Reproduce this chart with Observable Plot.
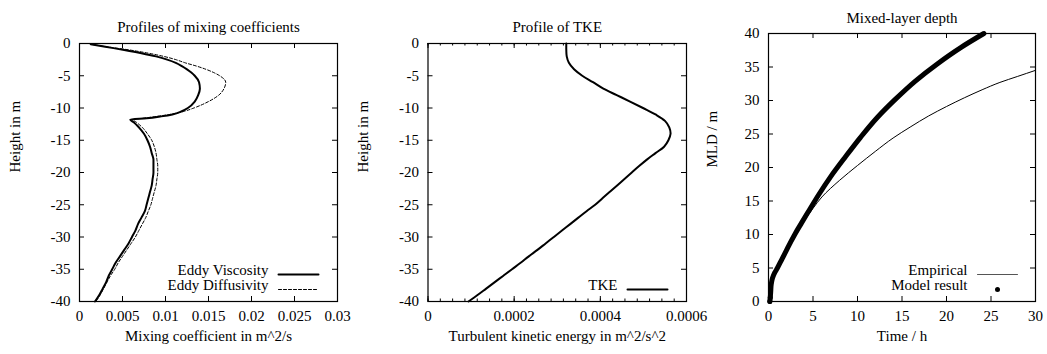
<!DOCTYPE html>
<html>
<head>
<meta charset="utf-8">
<script src="https://cdn.jsdelivr.net/npm/d3@7"></script>
<script src="https://cdn.jsdelivr.net/npm/@observablehq/plot@0.6"></script>
<style>
  html, body { margin: 0; padding: 0; background: #fff; }
  #chart { position: relative; width: 1047px; height: 354px; background: #fff; }
  #chart svg { position: absolute; left: 0; top: 0; }
</style>
</head>
<body>
<div id="chart"></div>
<script>
// ---- Profiles of mixing coefficients (height in m, coefficients in m^2/s)
const mixDepth = [-0.1, -0.5, -1, -1.5, -2, -2.5, -3, -3.5, -4, -4.5, -5, -6, -7, -8, -9, -10, -10.5, -11, -11.3, -11.6, -11.8,
  -12.2, -13, -14, -15, -16, -17, -18, -19, -20, -21, -22, -23, -24, -25, -26, -27, -28, -29, -30,
  -31, -32, -33, -34, -35, -36, -37, -38, -39, -40];
const eddyViscosity = [0.0013, 0.0030, 0.0052, 0.0072, 0.0089, 0.0102, 0.0112, 0.0119, 0.0125, 0.0130, 0.0134, 0.0139, 0.0140, 0.0138, 0.0134, 0.0126, 0.0119, 0.0108, 0.0095, 0.0078, 0.0059,
  0.0063, 0.0069, 0.0075, 0.0079, 0.0082, 0.0084, 0.0086, 0.0086, 0.0086, 0.0085, 0.0084, 0.0082, 0.0080, 0.0078, 0.0076, 0.0072, 0.0068, 0.0065, 0.0061,
  0.0057, 0.0052, 0.0047, 0.0042, 0.0038, 0.0034, 0.0031, 0.0027, 0.0023, 0.0018];
const eddyDiffusivity = [0.0013, 0.0031, 0.0058, 0.0080, 0.0098, 0.0112, 0.0123, 0.0136, 0.0147, 0.0156, 0.0163, 0.0170, 0.0168, 0.0162, 0.0150, 0.0133, 0.0122, 0.0105, 0.0090, 0.0073, 0.0062,
  0.0066, 0.0073, 0.0079, 0.0084, 0.0087, 0.0089, 0.0090, 0.0091, 0.0091, 0.0090, 0.0089, 0.0087, 0.0085, 0.0083, 0.0080, 0.0077, 0.0073, 0.0069, 0.0065,
  0.0060, 0.0055, 0.0050, 0.0045, 0.0041, 0.0036, 0.0032, 0.0028, 0.0024, 0.0019];

// ---- Profile of TKE (m^2/s^2)
const tkeDepth = [0, -1, -2, -3, -4, -5, -6, -7, -8, -9, -10, -11, -12, -13, -14, -15, -16, -17, -18, -19, -20,
  -21, -22, -23, -24, -25, -26, -27, -28, -29, -30, -31, -32, -33, -34, -35, -36, -37, -38, -39, -40];
const tke = [0.000321, 0.000321, 0.000322, 0.000327, 0.000339, 0.000358, 0.000383, 0.000407, 0.000438, 0.000469, 0.000499,
  0.000528, 0.000550, 0.000560, 0.000563, 0.000558, 0.000548, 0.000528, 0.000508, 0.000490, 0.000473,
  0.000456, 0.000439, 0.000422, 0.000405, 0.000388, 0.000368, 0.000349, 0.000330, 0.000311, 0.000292,
  0.000273, 0.000254, 0.000234, 0.000215, 0.000195, 0.000175, 0.000155, 0.000135, 0.000115, 0.000094];

// ---- Mixed-layer depth (time in h, depth in m)
const modelTime = [0.15, 0.2, 0.25, 0.3, 0.45, 0.7, 1.0, 1.5, 2.0, 2.5, 3.03, 3.7, 4.38, 5.62, 6.97, 8.65, 10.34, 12.25, 14.27, 16.5, 19.0, 21.6, 24.2];
const modelMLD  = [0, 0.6, 1.5, 2.5, 3.5, 4.3, 5.0, 6.3, 7.6, 8.9, 10.2, 11.7, 13.2, 15.9, 18.6, 21.6, 24.5, 27.5, 30.2, 32.9, 35.5, 37.9, 40];
const empTime = [0, 0.1, 0.3, 0.6, 1, 2, 3, 4, 5, 6, 8, 10, 12, 14, 16, 18, 20, 22, 24, 26, 28, 30];
const empMLD  = [0, 1.5, 3.0, 4.2, 5.3, 7.8, 10.1, 12.0, 13.9, 15.6, 18.1, 20.3, 22.4, 24.4, 26.1, 27.7, 29.1, 30.4, 31.6, 32.7, 33.6, 34.5];

// ---- Tick values
const depthTicks = [0, -5, -10, -15, -20, -25, -30, -35, -40];
const mixTicks = [0, 0.005, 0.01, 0.015, 0.02, 0.025, 0.03];
const tkeTicks = [0, 0.0002, 0.0004, 0.0006];
const tkeMinorTicks = d3.range(0, 22).map(i => i * 0.0006 / 21);
const timeTicks = [0, 5, 10, 15, 20, 25, 30];
const mldTicks = [0, 5, 10, 15, 20, 25, 30, 35, 40];

const W = 1047, H = 354;
const FONT = "'Liberation Serif', 'Times New Roman', serif";
const STYLE = `background: transparent; overflow: visible; font-family: ${FONT}; font-size: 15px; color: black;`;

// straight segment glyph for legend samples; a vector points up before rotation
const segment = {draw(ctx, l) { ctx.moveTo(0, 0); ctx.lineTo(0, -l); }};

// Inward tick marks on all four sides. The tick length is given in pixels and
// converted to data units of the perpendicular scale (frame is fw x fh pixels).
function inwardTicks(xs, ys, len, xDom, yDom, fw, fh) {
  const s = {stroke: "black", strokeWidth: 1};
  const dy = len * (yDom[1] - yDom[0]) / fh;
  const dx = len * (xDom[1] - xDom[0]) / fw;
  const marks = [];
  if (xs) marks.push(
    Plot.ruleX(xs, {x: d => d, y1: yDom[0], y2: yDom[0] + dy, ...s}),
    Plot.ruleX(xs, {x: d => d, y1: yDom[1] - dy, y2: yDom[1], ...s}));
  if (ys) marks.push(
    Plot.ruleY(ys, {y: d => d, x1: xDom[0], x2: xDom[0] + dx, ...s}),
    Plot.ruleY(ys, {y: d => d, x1: xDom[1] - dx, x2: xDom[1], ...s}));
  return marks;
}

// gnuplot-like box: frame, mirrored inward ticks and plain tick labels
function box(xTicks, yTicks, xDom, yDom, fw, fh) {
  const fmt = d => String(d);
  return [
    ...inwardTicks(xTicks, yTicks, 5, xDom, yDom, fw, fh),
    Plot.frame({stroke: "black", strokeWidth: 1.2}),
    Plot.axisX(xTicks, {anchor: "bottom", tickSize: 0, tickPadding: 9, tickFormat: fmt, label: null, fill: "black", fontSize: 15}),
    Plot.axisY(yTicks, {anchor: "left", tickSize: 0, tickPadding: 9, tickFormat: fmt, label: null, fill: "black", fontSize: 15})
  ];
}

function labels(title, titleDy, xLabel, yLabel, yDx) {
  return [
    Plot.text([title], {text: d => d, frameAnchor: "top", dy: titleDy, fill: "black", fontSize: 15}),
    Plot.text([xLabel], {text: d => d, frameAnchor: "bottom", dy: 39, fill: "black", fontSize: 15}),
    Plot.text([yLabel], {text: d => d, frameAnchor: "left", dx: yDx, rotate: -90, fill: "black", fontSize: 15})
  ];
}

function legendLine(label, row, opts = {}) {
  const dy = row === 0 ? -27 : -12;
  return [
    Plot.text([label], {text: d => d, frameAnchor: "bottom-right", dx: -69, dy, textAnchor: "end", fill: "black", fontSize: 15}),
    Plot.vector([label], {frameAnchor: "bottom-right", dx: -59, dy, length: 40, rotate: 90, anchor: "start",
      shape: segment, stroke: "black", strokeWidth: 1, ...opts})
  ];
}

const mixRows = mixDepth.map((z, i) => ({z, visc: eddyViscosity[i], diff: eddyDiffusivity[i]}));
const tkeRows = tkeDepth.map((z, i) => ({z, k: tke[i]}));
const modelRows = modelTime.map((t, i) => ({t, h: modelMLD[i]}));
const empRows = empTime.map((t, i) => ({t, h: empMLD[i]}));

// panel frames (pixel margins inside the shared 1047 x 354 canvas)
const M1 = {marginLeft: 79, marginRight: W - 337, marginTop: 43, marginBottom: H - 301};
const M2 = {marginLeft: 427.5, marginRight: W - 686, marginTop: 43, marginBottom: H - 301};
const M3 = {marginLeft: 768, marginRight: W - 1035, marginTop: 33, marginBottom: H - 301};
const frameW = m => W - m.marginLeft - m.marginRight;
const frameH = m => H - m.marginTop - m.marginBottom;

const mixDom = [0, 0.03], tkeDom = [0, 0.0006], depthDom = [-40, 0];
const timeDom = [0, 30], mldDom = [0, 40];

const p1 = Plot.plot({
  width: W, height: H, ...M1,
  style: STYLE,
  x: {domain: mixDom},
  y: {domain: depthDom},
  marks: [
    Plot.line(mixRows, {x: "diff", y: "z", stroke: "black", strokeWidth: 1, strokeDasharray: "3,2", curve: "monotone-y"}),
    Plot.line(mixRows, {x: "visc", y: "z", stroke: "black", strokeWidth: 2, curve: "monotone-y"}),
    ...box(mixTicks, depthTicks, mixDom, depthDom, frameW(M1), frameH(M1)),
    ...labels("Profiles of mixing coefficients", -22, "Mixing coefficient in m^2/s", "Height in m", -64),
    ...legendLine("Eddy Viscosity", 0, {strokeWidth: 2}),
    ...legendLine("Eddy Diffusivity", 1, {strokeWidth: 1, strokeDasharray: "3,2"})
  ]
});

const p2 = Plot.plot({
  width: W, height: H, ...M2,
  style: STYLE,
  x: {domain: tkeDom},
  y: {domain: depthDom},
  marks: [
    Plot.line(tkeRows, {x: "k", y: "z", stroke: "black", strokeWidth: 2, curve: "catmull-rom"}),
    ...inwardTicks(tkeMinorTicks, null, 2.5, tkeDom, depthDom, frameW(M2), frameH(M2)),
    ...box(tkeTicks, depthTicks, tkeDom, depthDom, frameW(M2), frameH(M2)),
    ...labels("Profile of TKE", -22, "Turbulent kinetic energy in m^2/s^2", "Height in m", -64.5),
    ...legendLine("TKE", 1, {strokeWidth: 2})
  ]
});

const p3 = Plot.plot({
  width: W, height: H, ...M3,
  style: STYLE,
  x: {domain: timeDom},
  y: {domain: mldDom},
  marks: [
    Plot.line(empRows, {x: "t", y: "h", stroke: "black", strokeWidth: 1, curve: "monotone-y"}),
    Plot.line(modelRows, {x: "t", y: "h", stroke: "black", strokeWidth: 5, curve: "monotone-y", strokeLinecap: "round"}),
    Plot.dot(modelRows.slice(0, 2), {x: "t", y: "h", r: 2.5, fill: "black"}),
    ...box(timeTicks, mldTicks, timeDom, mldDom, frameW(M3), frameH(M3)),
    ...labels("Mixed-layer depth", -21, "Time / h", "MLD / m", -56),
    Plot.text(["Empirical"], {text: d => d, frameAnchor: "bottom-right", dx: -68, dy: -27, textAnchor: "end", fill: "black", fontSize: 15}),
    Plot.vector(["Empirical"], {frameAnchor: "bottom-right", dx: -58, dy: -27, length: 40, rotate: 90, anchor: "start",
      shape: segment, stroke: "#555", strokeWidth: 1}),
    Plot.text(["Model result"], {text: d => d, frameAnchor: "bottom-right", dx: -68, dy: -12, textAnchor: "end", fill: "black", fontSize: 15}),
    Plot.dot(["Model result"], {frameAnchor: "bottom-right", dx: -38, dy: -12, r: 2.5, fill: "black"})
  ]
});

document.getElementById("chart").append(p1, p2, p3);
</script>
</body>
</html>
